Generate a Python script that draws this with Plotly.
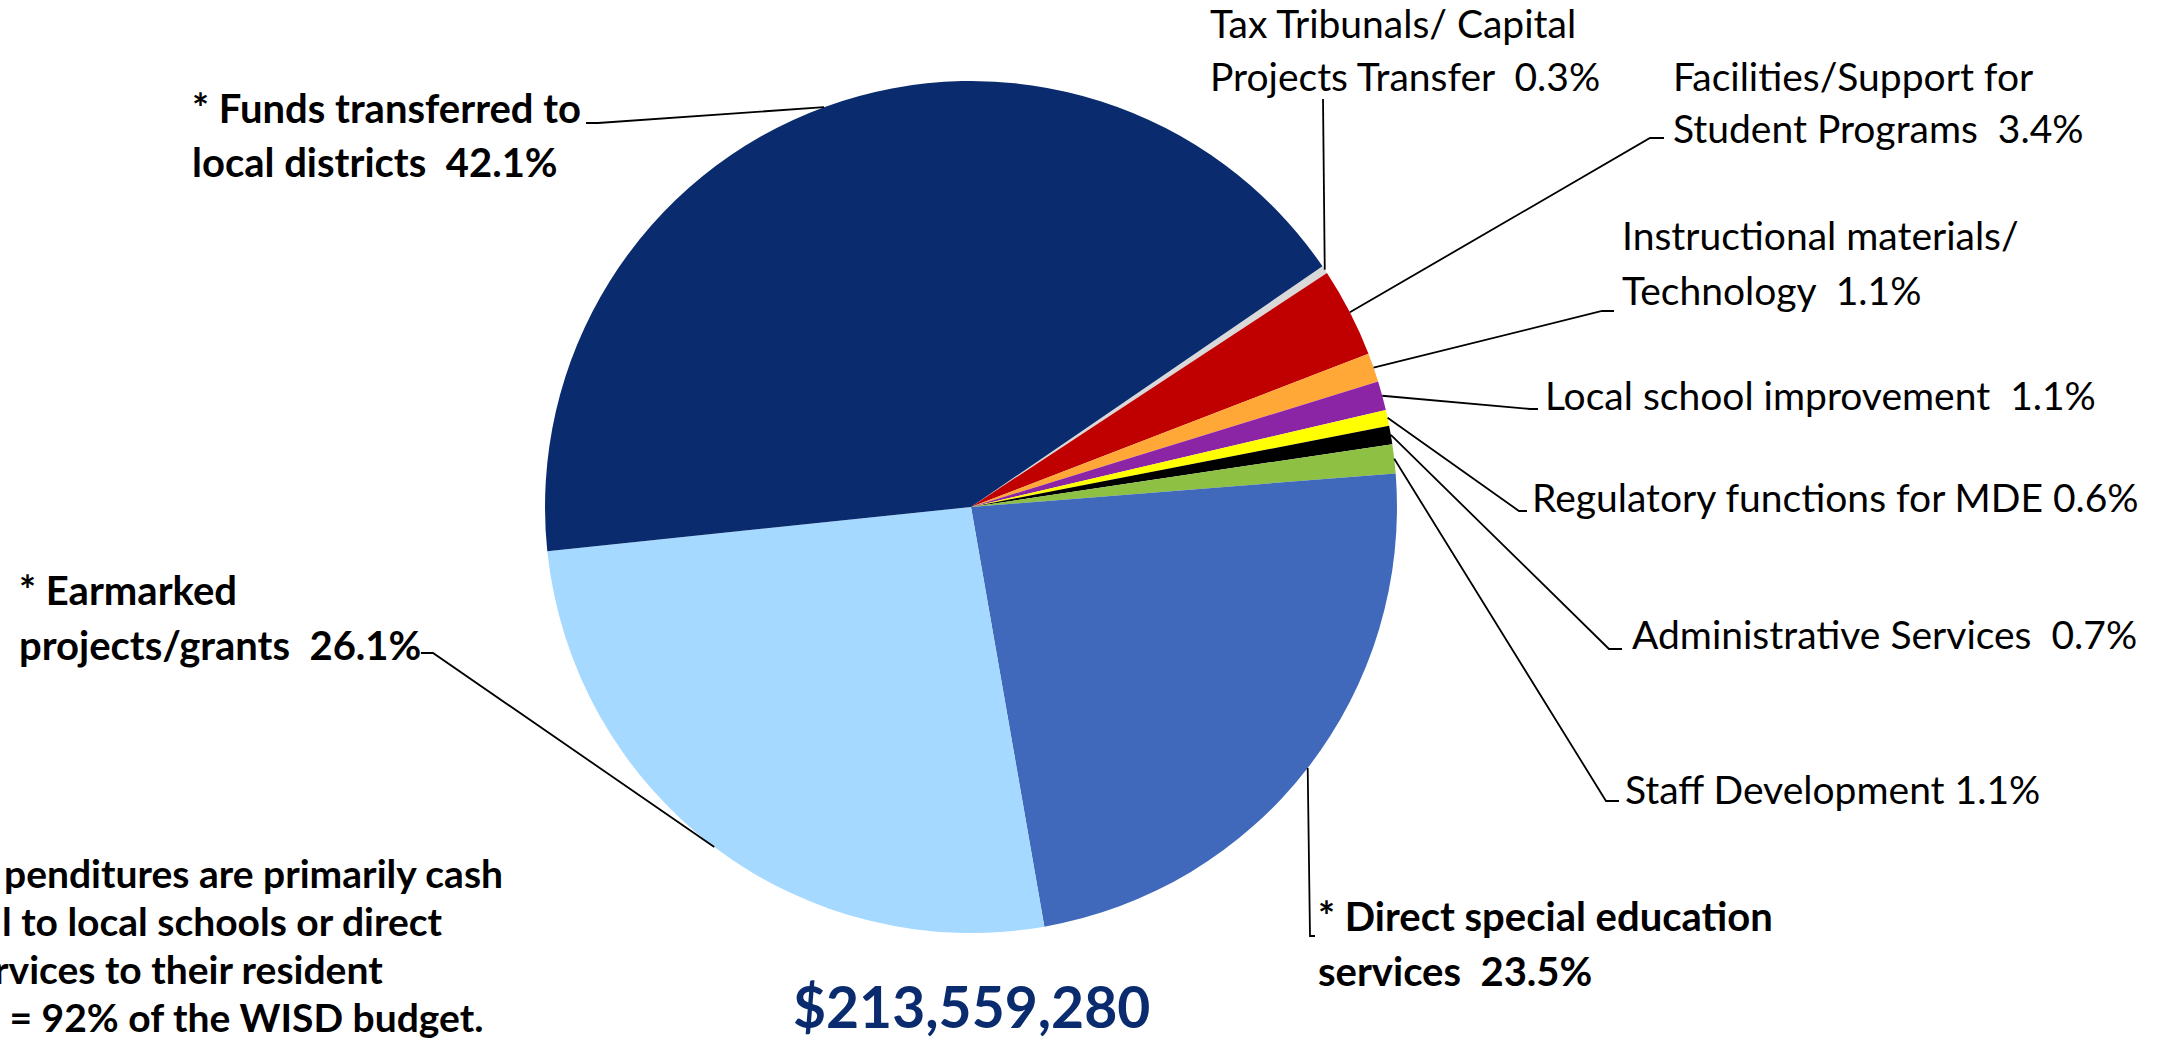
import math
import plotly.graph_objects as go

# slices, clockwise from the first one
categories = [
    "Tax Tribunals/ Capital Projects Transfer",
    "Facilities/Support for Student Programs",
    "Instructional materials/ Technology",
    "Local school improvement",
    "Regulatory functions for MDE",
    "Administrative Services",
    "Staff Development",
    "* Direct special education services",
    "* Earmarked projects/grants",
    "* Funds transferred to local districts",
]
shares = [0.3, 3.4, 1.1, 1.1, 0.6, 0.7, 1.1, 23.5, 26.1, 42.1]
colors = ["#D9D9D9", "#C00000", "#FFA737", "#8C24A6", "#FFFF00",
          "#000000", "#8DC043", "#4069BB", "#A6D9FF", "#0A2C6F"]

# label text, one list of lines per slice ({p} = share)
label_lines = [
    ["Tax Tribunals/ Capital", "Projects Transfer\u00a0\u00a0{p}"],
    ["Facilities/Support for", "Student Programs\u00a0\u00a0{p}"],
    ["Instructional materials/", "Technology\u00a0\u00a0{p}"],
    ["Local school improvement\u00a0\u00a0{p}"],
    ["Regulatory functions for MDE {p}"],
    ["Administrative Services\u00a0\u00a0{p}"],
    ["Staff Development {p}"],
    ["* Direct special education", "services\u00a0\u00a0{p}"],
    ["* Earmarked", "projects/grants\u00a0\u00a0{p}"],
    ["* Funds transferred to", "local districts\u00a0\u00a0{p}"],
]
bold_label = [False] * 7 + [True] * 3

total_text = "$213,559,280"
footnote = [
    "penditures are primarily cash",
    "l to local schools or direct",
    "rvices to their resident",
    "\u00a0= 92% of the WISD budget.",
]

W, H = 2166, 1040
CX, CY, R = 971, 507, 426
ROT = 55.6
FONT = "Lato"

# label placement in pixels: left x, first line centre y, line gap
label_xy = [
    (1208, 23, 53), (1671, 76, 52), (1620, 235, 55), (1543, 395, 0),
    (1530, 497, 0), (1630, 634, 0), (1623, 789, 0), (1316, 916, 55),
    (17, 590, 55), (190, 108, 54),
]
# leader lines: elbow point and end of the short stub
leader_pts = [
    ((1323, 99), (1323, 99)), ((1650, 138), (1664, 138)),
    ((1602, 311), (1614, 311)), ((1530, 409), (1538, 409)),
    ((1519, 511), (1527, 511)), ((1609, 649), (1622, 649)),
    ((1606, 801), (1619, 801)), ((1310, 936), (1315, 936)),
    ((433, 653), (421, 653)), ((598, 123), (586, 123)),
]


def px(x):
    return x / W


def py(y):
    return 1 - y / H


fig = go.Figure(go.Pie(
    labels=categories,
    values=shares,
    sort=False,
    direction="clockwise",
    rotation=ROT,
    marker=dict(colors=colors, line=dict(width=0)),
    textinfo="none",
    hoverinfo="label+percent",
    domain=dict(x=[px(CX - R), px(CX + R)], y=[py(CY + R), py(CY - R)]),
))

annotations = []
shapes = []
tot = sum(shares)
cum = 0
for i, v in enumerate(shares):
    # mid angle of slice, clockwise from 12 o'clock
    a = math.radians(ROT + 360 * (cum + v / 2) / tot)
    cum += v
    ex, ey = CX + R * math.sin(a), CY - R * math.cos(a)
    (bx, by), (sx, sy) = leader_pts[i]
    shapes.append(dict(
        type="path", xref="paper", yref="paper",
        path=f"M {px(ex)} {py(ey)} L {px(bx)} {py(by)} L {px(sx)} {py(sy)}",
        line=dict(color="black", width=1.8),
    ))
    lx, ly, gap = label_xy[i]
    for j, line in enumerate(label_lines[i]):
        txt = line.format(p=f"{v:.1f}%")
        if bold_label[i]:
            txt = f"<b>{txt}</b>"
        annotations.append(dict(
            x=px(lx), y=py(ly + j * gap), xref="paper", yref="paper",
            text=txt, showarrow=False, xanchor="left", yanchor="middle",
            font=dict(family=FONT, size=40 if bold_label[i] else 39, color="black"),
        ))

# footnote, cropped by the left edge of the picture
foot_right = [505, 445, 385, 485]
for j, line in enumerate(footnote):
    annotations.append(dict(
        x=px(foot_right[j]), y=py(873 + j * 48), xref="paper", yref="paper",
        text=f"<b>{line}</b>", showarrow=False, xanchor="right", yanchor="middle",
        font=dict(family=FONT, size=39, color="black"),
    ))

annotations.append(dict(
    x=px(CX), y=py(1006), xref="paper", yref="paper",
    text=f"<b>{total_text}</b>", showarrow=False, xanchor="center", yanchor="middle",
    font=dict(family=FONT, size=57, color="#0A2C6F"),
))

fig.update_layout(
    width=W, height=H,
    margin=dict(l=0, r=0, t=0, b=0),
    paper_bgcolor="white",
    plot_bgcolor="white",
    showlegend=False,
    annotations=annotations,
    shapes=shapes,
)

# drop the default 8px body margin so the figure fills the window
fig.write_html("out.html", config={"displayModeBar": False},
               post_script="document.body.style.margin='0';")
